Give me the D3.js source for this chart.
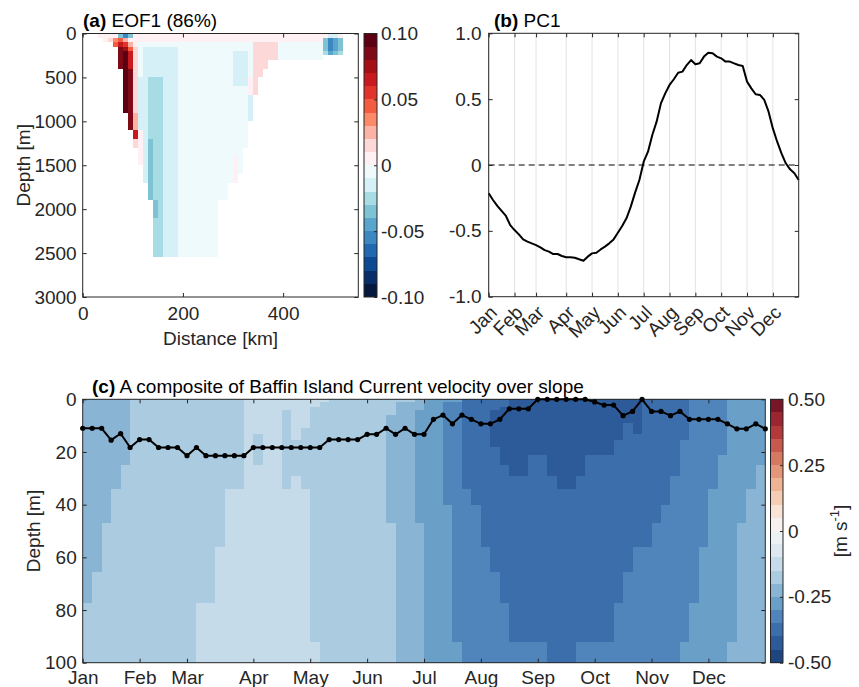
<!DOCTYPE html>
<html>
<head>
<meta charset="utf-8">
<script src="https://cdn.jsdelivr.net/npm/d3@7"></script>
<style>
body { margin: 0; background: #fff; }
</style>
</head>
<body>
<div id="viz"></div>
<script>
// ---------- data ----------
var months = ["Jan","Feb","Mar","Apr","May","Jun","Jul","Aug","Sep","Oct","Nov","Dec"];
// pentad index (0..72) where each month starts
var monthIdx = [0, 6, 11, 18, 24, 30, 36, 42, 48, 54, 60, 66];

// (b) PC1, one value per pentad
var pc1 = [-0.215,-0.266,-0.311,-0.349,-0.387,-0.456,-0.494,-0.527,-0.565,-0.582,
           -0.595,-0.608,-0.625,-0.646,-0.658,-0.676,-0.676,-0.691,-0.701,-0.701,
           -0.704,-0.716,-0.727,-0.696,-0.671,-0.666,-0.641,-0.620,-0.595,-0.565,
           -0.514,-0.463,-0.405,-0.316,-0.210,-0.114,0.025,0.101,0.228,0.329,
           0.468,0.544,0.608,0.651,0.701,0.709,0.759,0.797,0.765,0.772,
           0.823,0.853,0.848,0.823,0.810,0.785,0.785,0.772,0.759,0.752,
           0.633,0.582,0.537,0.532,0.494,0.405,0.278,0.177,0.089,0.013,
           -0.033,-0.063,-0.114];

// (c) black line: depth [m] per pentad
var lineDepth = [11,11,11,15.5,13,18.3,15.3,15.3,18.3,18.3,
                 18.3,21.4,18.3,21.4,21.4,21.4,21.4,21.4,18.3,18.3,
                 18.3,18.3,18.3,18.3,18.3,18.3,15.3,15.3,15.3,15.3,
                 13.3,13.3,11,13.3,11,13.3,13.3,7.6,6.0,9.3,
                 6.0,7.6,9.3,9.3,7.6,3.6,3.6,3.6,0,0,
                 0,0,0,0,1,2.2,2.2,6.2,4.6,0,
                 4.6,4.6,6.2,4.6,7.6,7.6,7.6,7.6,9.3,11.2,
                 11.2,9.3,11.2];

// (c) velocity composite: depth bin edges and one code string per pentad cell
var velDepthEdges = [0,1,3,4,6,9,11,13,15.5,18,21,25,29,34,40,47,56,65.5,77.5,92,100];
var velCodeValue = [null,-0.425,-0.375,-0.325,-0.275,-0.225,-0.175,-0.125];
var velCodes = [
  "55555 55555 55555 55566","55555 55555 55555 55666","55555 55555 55555 66666",
  "55555 55555 55566 66666","55555 55555 56666 66666","66666 66666 66666 66666",
  "66666 66666 66666 66666","66666 66666 66666 66666","66666 66666 66666 66666",
  "66666 66666 66666 66666","66666 66666 66666 66666","66666 66666 66666 66666",
  "66666 66666 66666 66677","66666 66666 66666 66677","66666 66666 66666 67777",
  "66666 66666 66677 77777","66666 66666 66677 77777","77777 77777 77777 77777",
  "77777 77666 67777 77777","77777 77777 77777 77777","77777 77777 77777 77777",
  "77766 66666 66677 77777","77777 77766 66777 77777","77777 76666 66677 77777",
  "77666 66666 66666 66667","76666 66666 66666 66666","66666 66666 66666 66666",
  "66666 66666 66666 66666","66666 66666 66666 66666","66666 66666 66666 66666",
  "66666 66666 66666 66666","66666 66666 66666 66666","66665 55555 55555 66666",
  "65555 55555 55555 55555","65555 55555 55555 55555","55544 44444 44444 55555",
  "44444 44444 44444 44444","44444 44444 44444 44444","43333 33333 33334 44444",
  "43333 33333 33333 33334","22222 22222 22233 33333","22222 22222 22223 33333",
  "22222 22222 22222 23333","22211 11112 22222 22333","22111 11111 12222 22233",
  "11111 11111 11222 22223","11111 11111 11222 22223","11111 11111 22222 22223",
  "11111 11111 22222 22223","11111 11111 11222 22222","11111 11111 11122 22222",
  "11111 11111 11122 22222","11111 11111 11222 22223","11111 11111 22222 22223",
  "11111 11111 22222 22223","11111 11111 22222 22223","11111 11122 22222 22233",
  "11111 22222 22222 22333","11111 11222 22222 23333","22222 22222 22222 23333",
  "22222 22222 22222 33333","22222 22222 22223 33333","22222 22222 22333 33333",
  "22222 22233 33333 33334","33333 33333 33333 33344","33333 33333 33333 34444",
  "33333 33333 33344 44444","33333 33333 44444 44444","44444 44444 44444 44445",
  "44444 44444 44444 55555","44444 44444 44455 55555","44444 44444 45555 55555"
];

// (a) EOF1 section: 10 km columns, depth rows, run-length coded level letters ('.' = no data)
var eofDistEdges = d3.range(0, 551, 10);
var eofDepthEdges = [0,50,100,150,200,250,300,400,500,600,700,800,900,1000,1100,1200,
                     1300,1400,1500,1600,1700,1800,1900,2000,2100,2200,2300,2400,2500,2550];
var eofLevelKeys = "ABCDEFGHIJKLMNOPQRST";
var eofLevelValue = [-0.095,-0.085,-0.075,-0.065,-0.055,-0.045,-0.035,-0.025,-0.015,-0.005,
                     0.005,0.015,0.025,0.035,0.045,0.055,0.065,0.075,0.085,0.095];
var eofRows = [
  "3.4KGEG39K2IK3.",
  "4.KLNOMK38KGEFG3.",
  "6.OQPMK23J5L9JGEFG3.",
  "7.SROLJ7I15J5L9JGEFG3.",
  "7.STQLJ7I11J3IJ5L9JHFGH3.",
  "7.STQLJ7I11J3IJ5L9J7.",
  "7.STQLJ7I11J3IJ3L18.",
  "8.TSLJ7I11J3IJ2L19.",
  "8.TSL2I3H3I11J3IKL20.",
  "8.TSL2I3H3I14JKL20.",
  "8.TSL2I3H3I14JI21.",
  "8.TSL2I3H3I14JI21.",
  "9.SM2I3H3I14JI21.",
  "9.SM2I3H3I14J22.",
  "10.QKI3H3I14J22.",
  "10.LKIG2H3I14J22.",
  "11.KIG2H3I13J23.",
  "11.KIG2H3I11JKJ23.",
  "12.IG2H3I11JKJ23.",
  "12.IG2H3I11JK24.",
  "13.G2H3I10J26.",
  "13.G2H3I10J26.",
  "14.GH3I8J28.",
  "14.GH3I8J28.",
  "14.2H3I8J28.",
  "14.2H3I8J28.",
  "14.2H3I8J28.",
  "14.2H3I8J28.",
  "14.2H3I8J28."
];

var eofTicks = [-0.1, -0.05, 0, 0.05, 0.1];
var velTicks = [-0.5, -0.25, 0, 0.25, 0.5];

// colour steps (20 each, low to high)
var eofColors = ["#07183f","#082d69","#0b4a92","#2068b0","#3c88c3","#5aa5cd","#7ec3d4","#a8dce4","#d5f0f7","#effafd",
                 "#fff0f3","#fdd8d8","#fcb3a5","#fb8a6b","#f45c3f","#e2332a","#c8191e","#a50f16","#7e0a18","#5c0012"];
var velColors = ["#1f4580","#2d5a98","#3c6eab","#5085bb","#6a9fc8","#8ab4d4","#abcbe0","#c6dbe9","#dee8f0","#eef1f4",
                 "#f8f0ee","#f9e2d6","#f4cdb4","#edb394","#e39679","#d57a60","#c6584d","#b3393b","#9b2531","#781628"];

// ---------- layout ----------
var FONT = "Liberation Sans, Arial, Helvetica, sans-serif";
var INK = "#262626";
var A = {l: 82.7, r: 358.3, t: 33.5, b: 297};
var B = {l: 488.7, r: 798.7, t: 33.3, b: 296.7};
var C = {l: 82.7, r: 765.3, t: 399.3, b: 662.7};
var cbA = {l: 364, r: 377};
var cbC = {l: 770.5, r: 783};

var svg = d3.select("#viz").append("svg")
    .attr("width", 859)
    .attr("height", 687)
    .attr("font-family", FONT);

function rle(s) {
  var out = "";
  s.replace(/(\d*)(\D)/g, function(m, n, c) { out += c.repeat(n ? +n : 1); return m; });
  return out;
}

function drawAxis(gen, tx, ty) {
  var g = svg.append("g")
      .attr("transform", "translate(" + tx + "," + ty + ")")
      .call(gen);
  g.attr("font-size", 19).attr("font-family", FONT);
  g.select(".domain").remove();
  g.selectAll(".tick line").attr("stroke", INK);
  g.selectAll(".tick text").attr("fill", INK);
  return g;
}

function box(p) {
  svg.append("rect")
      .attr("x", p.l).attr("y", p.t)
      .attr("width", p.r - p.l).attr("height", p.b - p.t)
      .attr("fill", "none").attr("stroke", INK).attr("stroke-width", 1);
}

function title(x, y, tag, rest) {
  var t = svg.append("text").attr("x", x).attr("y", y)
      .attr("font-size", 19).attr("fill", "#000");
  t.append("tspan").attr("font-weight", "bold").text(tag);
  t.append("tspan").text(" " + rest);
}

function fmt(d, n) { return d === 0 ? "0" : d.toFixed(n); }
function plain(d) { return String(d); }

// ---------- (a) EOF1 ----------
var xA = d3.scaleLinear().domain([0, 550]).range([A.l, A.r]);
var yA = d3.scaleLinear().domain([0, 3000]).range([A.t, A.b]);
var colA = d3.scaleQuantize().domain([-0.1, 0.1]).range(eofColors);

var cellsA = [];
eofRows.forEach(function(row, r) {
  var s = rle(row);
  for (var c = 0; c < s.length; c++) {
    var k = eofLevelKeys.indexOf(s[c]);
    if (k < 0) continue;
    cellsA.push({c: c, r: r, v: eofLevelValue[k]});
  }
});
svg.append("g").attr("shape-rendering", "crispEdges")
  .selectAll("rect").data(cellsA).join("rect")
    .attr("x", function(d) { return xA(eofDistEdges[d.c]); })
    .attr("width", function(d) { return xA(eofDistEdges[d.c + 1]) - xA(eofDistEdges[d.c]); })
    .attr("y", function(d) { return yA(eofDepthEdges[d.r]); })
    .attr("height", function(d) { return yA(eofDepthEdges[d.r + 1]) - yA(eofDepthEdges[d.r]); })
    .attr("fill", function(d) { return colA(d.v); });

box(A);
var depthTicksA = [0, 500, 1000, 1500, 2000, 2500, 3000];
drawAxis(d3.axisBottom(xA).tickValues([0, 200, 400]).tickSize(-4).tickPadding(10).tickFormat(plain), 0, A.b);
drawAxis(d3.axisTop(xA).tickValues([0, 200, 400]).tickSize(-4).tickFormat(""), 0, A.t);
drawAxis(d3.axisLeft(yA).tickValues(depthTicksA).tickSize(-4).tickPadding(6).tickFormat(plain), A.l, 0);
drawAxis(d3.axisRight(yA).tickValues(depthTicksA).tickSize(-4).tickFormat(""), A.r, 0);

svg.append("text").attr("x", (A.l + A.r) / 2).attr("y", 345)
    .attr("text-anchor", "middle").attr("font-size", 19).attr("fill", INK)
    .text("Distance [km]");
svg.append("text").attr("transform", "translate(30," + (A.t + A.b) / 2 + ") rotate(-90)")
    .attr("text-anchor", "middle").attr("font-size", 19).attr("fill", INK)
    .text("Depth [m]");
title(83, 27, "(a)", "EOF1 (86%)");

// colourbar (a)
var cyA = d3.scaleLinear().domain([-0.1, 0.1]).range([A.b, A.t]);
var binsA = eofLevelValue.map(function(v) { return [v - 0.005, v + 0.005]; });
svg.append("g").attr("shape-rendering", "crispEdges")
  .selectAll("rect").data(binsA).join("rect")
    .attr("x", cbA.l).attr("width", cbA.r - cbA.l)
    .attr("y", function(d) { return cyA(d[1]); })
    .attr("height", function(d) { return cyA(d[0]) - cyA(d[1]); })
    .attr("fill", function(d) { return colA((d[0] + d[1]) / 2); });
box({l: cbA.l, r: cbA.r, t: A.t, b: A.b});
drawAxis(d3.axisRight(cyA).tickValues(eofTicks).tickSize(-3).tickPadding(4)
    .tickFormat(function(d) { return fmt(d, 2); }), cbA.r, 0);

// ---------- (b) PC1 ----------
var xB = d3.scaleLinear().domain([0, 72]).range([B.l, B.r]);
var yB = d3.scaleLinear().domain([-1, 1]).range([B.b, B.t]);

svg.append("g").selectAll("line").data(monthIdx).join("line")
    .attr("x1", function(d) { return xB(d); }).attr("x2", function(d) { return xB(d); })
    .attr("y1", B.t).attr("y2", B.b)
    .attr("stroke", "#e3e3e3").attr("stroke-width", 1);

svg.append("line")
    .attr("x1", B.l).attr("x2", B.r).attr("y1", yB(0)).attr("y2", yB(0))
    .attr("stroke", "#000").attr("stroke-width", 1).attr("stroke-dasharray", "6,4");

svg.append("path").datum(pc1)
    .attr("fill", "none").attr("stroke", "#000").attr("stroke-width", 2)
    .attr("stroke-linejoin", "round")
    .attr("d", d3.line().x(function(d, i) { return xB(i); }).y(function(d) { return yB(d); }));

box(B);
var pcTicks = [-1, -0.5, 0, 0.5, 1];
drawAxis(d3.axisLeft(yB).tickValues(pcTicks).tickSize(-4).tickPadding(7)
    .tickFormat(function(d) { return fmt(d, 1); }), B.l, 0);
drawAxis(d3.axisRight(yB).tickValues(pcTicks).tickSize(-4).tickFormat(""), B.r, 0);
drawAxis(d3.axisTop(xB).tickValues(monthIdx).tickSize(-4).tickFormat(""), 0, B.t);
var gxB = drawAxis(d3.axisBottom(xB).tickValues(monthIdx).tickSize(-4)
    .tickFormat(function(d, i) { return months[i]; }), 0, B.b);
gxB.selectAll(".tick text")
    .attr("y", 0).attr("dy", 0)
    .attr("text-anchor", "end")
    .attr("transform", "translate(9,17) rotate(-45)");
title(494, 27, "(b)", "PC1");

// ---------- (c) composite ----------
var xC = d3.scaleLinear().domain([0, 72]).range([C.l, C.r]);
var yC = d3.scaleLinear().domain([0, 100]).range([C.t, C.b]);
var colC = d3.scaleQuantize().domain([-0.5, 0.5]).range(velColors);

var cellsC = [];
velCodes.forEach(function(code, i) {
  var s = code.replace(/ /g, "");
  for (var j = 0; j < s.length; j++) cellsC.push({i: i, j: j, v: velCodeValue[+s[j]]});
});
svg.append("g").attr("shape-rendering", "crispEdges")
  .selectAll("rect").data(cellsC).join("rect")
    .attr("x", function(d) { return xC(d.i); })
    .attr("width", function(d) { return xC(d.i + 1) - xC(d.i); })
    .attr("y", function(d) { return yC(velDepthEdges[d.j]); })
    .attr("height", function(d) { return yC(velDepthEdges[d.j + 1]) - yC(velDepthEdges[d.j]); })
    .attr("fill", function(d) { return colC(d.v); });

box(C);
var depthTicksC = [0, 20, 40, 60, 80, 100];
drawAxis(d3.axisLeft(yC).tickValues(depthTicksC).tickSize(-4).tickPadding(6).tickFormat(plain), C.l, 0);
drawAxis(d3.axisRight(yC).tickValues(depthTicksC).tickSize(-4).tickFormat(""), C.r, 0);
drawAxis(d3.axisTop(xC).tickValues(monthIdx).tickSize(-4).tickFormat(""), 0, C.t);
drawAxis(d3.axisBottom(xC).tickValues(monthIdx).tickSize(-4).tickPadding(8)
    .tickFormat(function(d, i) { return months[i]; }), 0, C.b);

svg.append("path").datum(lineDepth)
    .attr("fill", "none").attr("stroke", "#000").attr("stroke-width", 2)
    .attr("stroke-linejoin", "round")
    .attr("d", d3.line().x(function(d, i) { return xC(i); }).y(function(d) { return yC(d); }));
svg.append("g").selectAll("circle").data(lineDepth).join("circle")
    .attr("cx", function(d, i) { return xC(i); })
    .attr("cy", function(d) { return yC(d); })
    .attr("r", 2.6).attr("fill", "#000");

svg.append("text").attr("transform", "translate(40," + (C.t + C.b) / 2 + ") rotate(-90)")
    .attr("text-anchor", "middle").attr("font-size", 19).attr("fill", INK)
    .text("Depth [m]");
title(92, 393, "(c)", "A composite of Baffin Island Current velocity over slope");

// colourbar (c)
var cyC = d3.scaleLinear().domain([-0.5, 0.5]).range([C.b, C.t]);
var binsC = velColors.map(function(c, k) { return [cyC.domain()[0] + k * 0.05, cyC.domain()[0] + (k + 1) * 0.05]; });
svg.append("g").attr("shape-rendering", "crispEdges")
  .selectAll("rect").data(binsC).join("rect")
    .attr("x", cbC.l).attr("width", cbC.r - cbC.l)
    .attr("y", function(d) { return cyC(d[1]); })
    .attr("height", function(d) { return cyC(d[0]) - cyC(d[1]); })
    .attr("fill", function(d) { return colC((d[0] + d[1]) / 2); });
box({l: cbC.l, r: cbC.r, t: C.t, b: C.b});
drawAxis(d3.axisRight(cyC).tickValues(velTicks).tickSize(-3).tickPadding(5)
    .tickFormat(function(d) { return fmt(d, 2); }), cbC.r, 0);

var unit = svg.append("text").attr("transform", "translate(847," + (C.t + C.b) / 2 + ") rotate(-90)")
    .attr("text-anchor", "middle").attr("font-size", 19).attr("fill", INK);
unit.append("tspan").text("[m s");
unit.append("tspan").attr("font-size", 13).attr("dy", -8).text("-1");
unit.append("tspan").attr("dy", 8).text("]");
</script>
</body>
</html>
